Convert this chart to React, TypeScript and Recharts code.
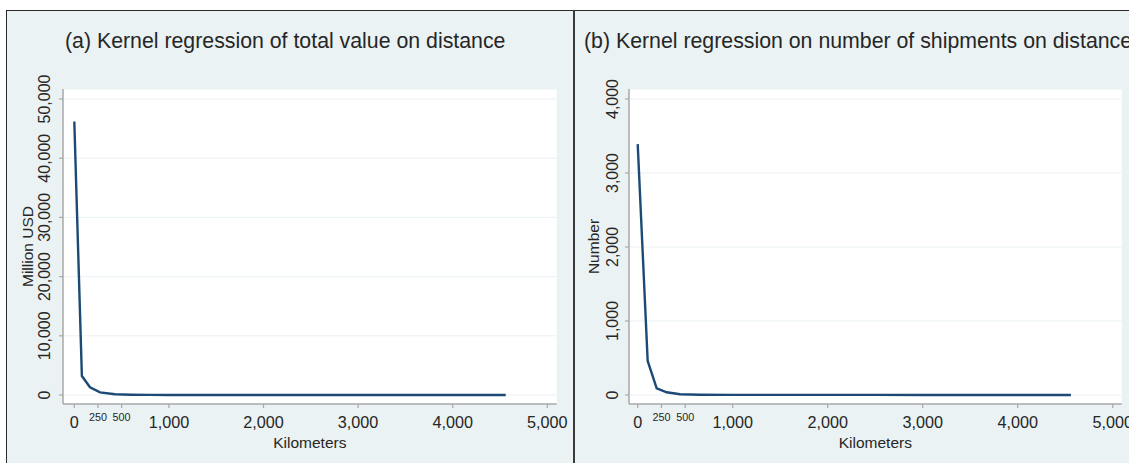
import React from 'react';
import { LineChart, Line, XAxis, YAxis, CartesianGrid } from 'recharts';

// Panel (a): kernel regression of total value (million USD) on distance (km)
const distA = [0, 80, 166, 272, 430, 600, 800, 1000, 1500, 2000, 2500, 3000, 3500, 4000, 4560];
const valueA = [46200, 3200, 1300, 450, 120, 40, 15, 8, 5, 4, 3, 3, 2, 2, 2];

// Panel (b): kernel regression of number of shipments on distance (km)
const distB = [0, 105, 200, 305, 445, 650, 1000, 1500, 2000, 2500, 3000, 3500, 4000, 4560];
const valueB = [3390, 460, 90, 36, 10, 4, 2, 1, 1, 1, 0.5, 0.5, 0.5, 0.5];

const xTicks = [0, 250, 500, 1000, 2000, 3000, 4000, 5000];
const smallXTicks = [250, 500];
const yTicksA = [0, 10000, 20000, 30000, 40000, 50000];
const yTicksB = [0, 1000, 2000, 3000, 4000];

const titleA = '(a) Kernel regression of total value on distance';
const titleB = '(b) Kernel regression on number of shipments on distance';
const yLabelA = 'Million USD';
const yLabelB = 'Number';
const xLabel = 'Kilometers';

const FONT = '"Liberation Sans", Arial, Helvetica, sans-serif';
const TEXT = '#262626';
const AXIS = '#a9a9a9';
const BG = '#eaf2f3';
const LINE = '#1c4a75';

const fmt = (v: number) => v.toLocaleString('en-US');

const makeData = (d: number[], v: number[]) => d.map((x, i) => ({ x, y: v[i] }));

type PanelProps = {
  left: number;
  width: number;
  plotLeft: number;
  plotRight: number;
  xDomain: [number, number];
  yDomain: [number, number];
  yTicks: number[];
  data: { x: number; y: number }[];
  yTickOff: number;
};

const TOP = 10;
const HEIGHT = 453;
const PLOT_TOP = 79;
const PLOT_BOTTOM = 394;

function Panel(p: PanelProps) {
  const YTick = (props: any) => {
    const { x, y, payload } = props;
    const cx = x - p.yTickOff;
    return (
      <text
        x={cx}
        y={y}
        transform={`rotate(-90 ${cx} ${y})`}
        textAnchor="middle"
        dy="0.36em"
        fontSize={16}
        fontFamily={FONT}
        fill={TEXT}
      >
        {fmt(payload.value)}
      </text>
    );
  };
  const XTick = (props: any) => {
    const { x, y, payload } = props;
    const small = smallXTicks.includes(payload.value);
    return (
      <text
        x={x}
        y={y + (small ? 11 : 17.5)}
        textAnchor="middle"
        fontSize={small ? 10.8 : 16.2}
        fontFamily={FONT}
        fill={TEXT}
      >
        {fmt(payload.value)}
      </text>
    );
  };
  return (
    <div style={{ position: 'absolute', left: p.left, top: TOP }}>
      <LineChart
        width={p.width}
        height={HEIGHT}
        data={p.data}
        margin={{ top: PLOT_TOP, right: p.width - p.plotRight, left: 0, bottom: 0 }}
      >
        <CartesianGrid fill="#ffffff" stroke={BG} strokeWidth={1} vertical={false} />
        <XAxis
          dataKey="x"
          type="number"
          domain={p.xDomain}
          ticks={xTicks}
          allowDataOverflow
          interval={0}
          height={HEIGHT - PLOT_BOTTOM}
          tickSize={4}
          tickMargin={2}
          tick={XTick}
          axisLine={{ stroke: AXIS, strokeWidth: 1.5 }}
          tickLine={{ stroke: AXIS, strokeWidth: 1.2 }}
        />
        <YAxis
          dataKey="y"
          type="number"
          domain={p.yDomain}
          ticks={p.yTicks}
          allowDataOverflow
          interval={0}
          width={p.plotLeft}
          tickSize={4}
          tickMargin={2}
          tick={YTick}
          axisLine={{ stroke: AXIS, strokeWidth: 1.5 }}
          tickLine={{ stroke: AXIS, strokeWidth: 1.2 }}
        />
        <Line
          type="linear"
          dataKey="y"
          stroke={LINE}
          strokeWidth={2.4}
          dot={false}
          activeDot={false}
          isAnimationActive={false}
        />
      </LineChart>
    </div>
  );
}

export default function App() {
  const aPlotL = 63, aPlotR = 556.7;
  const bLeft = 574;
  const bPlotL = 629 - bLeft, bPlotR = 1121.7 - bLeft;
  return (
    <div
      style={{
        position: 'absolute',
        left: 0,
        top: 0,
        width: 1129,
        height: 463,
        background: '#ffffff',
        overflow: 'hidden',
        fontFamily: FONT,
      }}
    >
      <div
        style={{
          position: 'absolute',
          left: 6,
          top: 10,
          width: 1129,
          height: 463,
          background: BG,
          borderTop: '1.5px solid #2a2a2a',
          borderLeft: '1.5px solid #2a2a2a',
          boxSizing: 'border-box',
        }}
      />
      <div
        style={{
          position: 'absolute',
          left: 573.3,
          top: 10,
          width: 1.5,
          height: 453,
          background: '#3a3a3a',
        }}
      />
      <Panel
        left={0}
        width={574}
        plotLeft={aPlotL}
        plotRight={aPlotR}
        xDomain={[-119.5, 5099]}
        yDomain={[-1520, 51689]}
        yTicks={yTicksA}
        data={makeData(distA, valueA)}
        yTickOff={13}
      />
      <Panel
        left={bLeft}
        width={555}
        plotLeft={bPlotL}
        plotRight={bPlotR}
        xDomain={[-91.6, 5094.7]}
        yDomain={[-122, 4135]}
        yTicks={yTicksB}
        data={makeData(distB, valueB)}
        yTickOff={11}
      />
      <svg
        width={1129}
        height={463}
        style={{ position: 'absolute', left: 0, top: 0, pointerEvents: 'none' }}
      >
        <text x={65} y={48} fontSize={21.3} fontFamily={FONT} fill={TEXT}>
          {titleA}
        </text>
        <text x={584} y={48} fontSize={21.3} fontFamily={FONT} fill={TEXT}>
          {titleB}
        </text>
        <text
          x={27}
          y={246.5}
          transform="rotate(-90 27 246.5)"
          textAnchor="middle"
          dy="0.36em"
          fontSize={15.5}
          fontFamily={FONT}
          fill={TEXT}
        >
          {yLabelA}
        </text>
        <text
          x={593}
          y={246.5}
          transform="rotate(-90 593 246.5)"
          textAnchor="middle"
          dy="0.36em"
          fontSize={15.5}
          fontFamily={FONT}
          fill={TEXT}
        >
          {yLabelB}
        </text>
        <text x={(aPlotL + aPlotR) / 2} y={448.4} textAnchor="middle" fontSize={15.5} fontFamily={FONT} fill={TEXT}>
          {xLabel}
        </text>
        <text
          x={bLeft + (bPlotL + bPlotR) / 2}
          y={448.4}
          textAnchor="middle"
          fontSize={15.5}
          fontFamily={FONT}
          fill={TEXT}
        >
          {xLabel}
        </text>
      </svg>
    </div>
  );
}
